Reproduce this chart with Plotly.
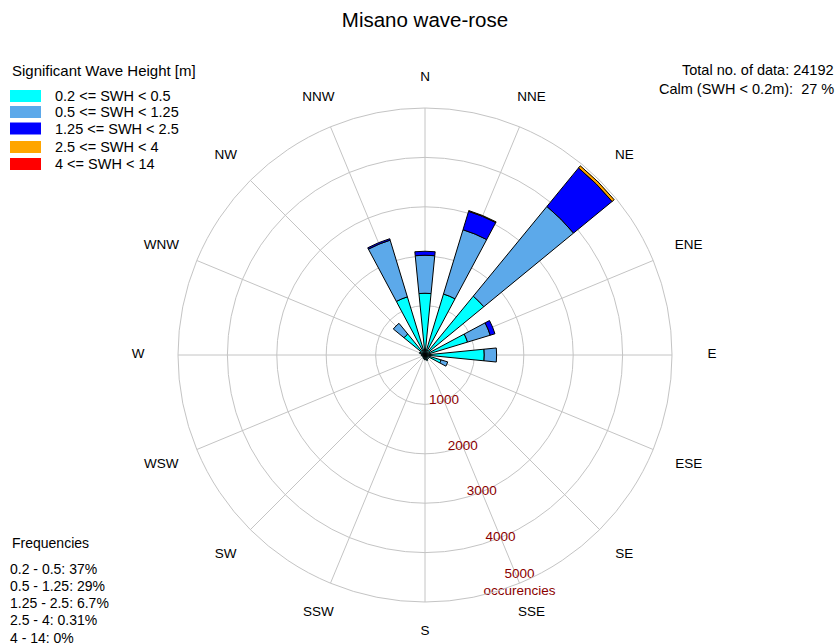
import math
import plotly.graph_objects as go

# Direction sectors (compass degrees, clockwise from north)
directions = ["N", "NNE", "NE", "ENE", "E", "ESE", "SE", "SSE",
              "S", "SSW", "SW", "WSW", "W", "WNW", "NW", "NNW"]
angles = [i * 22.5 for i in range(16)]

# Occurrences per direction for each significant wave height class
swh_02_05 = [1250, 1290, 1540, 900, 1200, 340, 100, 120, 100, 80, 60, 60, 80, 120, 550, 1230]
swh_05_125 = [770, 1360, 2350, 480, 250, 140, 0, 0, 0, 0, 0, 0, 0, 0, 280, 1200]
swh_125_25 = [80, 390, 1010, 100, 0, 0, 0, 0, 0, 0, 0, 0, 0, 0, 0, 30]
swh_25_4 = [0, 15, 55, 0, 0, 0, 0, 0, 0, 0, 0, 0, 0, 0, 0, 0]
swh_4_14 = [0] * 16

class_labels = ["0.2 <= SWH < 0.5", "0.5 <= SWH < 1.25", "1.25 <= SWH < 2.5",
                "2.5 <= SWH < 4", "4 <= SWH < 14"]
class_colors = ["#00ffff", "#5ca9ea", "#0000ff", "#ffa500", "#ff0000"]

radial_ticks = [1000, 2000, 3000, 4000, 5000]
radial_tick_text = ["1000", "2000", "3000", "4000", "5000<br>occurencies"]

freq_lines = ["0.2 - 0.5: 37%", "0.5 - 1.25: 29%", "1.25 - 2.5: 6.7%",
              "2.5 - 4: 0.31%", "4 - 14: 0%"]
total_text = "Total no. of data: 24192"
calm_text = "Calm (SWH < 0.2m):  27 %"

W, H = 840, 643
FONT = "Liberation Sans, Arial, sans-serif"


def px(x):
    return x / W


def py(y):
    return 1 - y / H


fig = go.Figure()

series = [swh_02_05, swh_05_125, swh_125_25, swh_25_4, swh_4_14]
for name, vals, color in zip(class_labels, series, class_colors):
    fig.add_trace(go.Barpolar(
        r=[v if v > 0 else None for v in vals],
        theta=angles,
        width=[11.25] * len(angles),
        name=name,
        marker=dict(color=color, line=dict(color="black", width=1)),
        showlegend=False,
    ))

# radial scale labels along the SSE spoke
fig.add_trace(go.Scatterpolar(
    r=radial_ticks, theta=[157.5] * len(radial_ticks), mode="text",
    text=radial_tick_text, textposition="middle center",
    textfont=dict(family=FONT, size=13.5, color="#8b0000"),
    cliponaxis=False, showlegend=False, hoverinfo="skip",
))

cx, cy, R = 425, 355, 247
scale = R / 5000.0                 # pixels per occurrence
OUTER_R = (H - cy) / scale         # overlay polar reaches the bottom edge
R2 = OUTER_R * scale

# compass labels sit on a slightly flattened ring around the rose
lab_a, lab_b = 287 / scale, 277 / scale


def label_radius(deg):
    t = math.radians(deg)
    return 1.0 / math.sqrt((math.sin(t) / lab_a) ** 2 + (math.cos(t) / lab_b) ** 2)


fig.add_trace(go.Scatterpolar(
    r=[label_radius(a) for a in angles], theta=angles, mode="text", text=directions,
    textfont=dict(family=FONT, size=13.5, color="black"),
    cliponaxis=False, showlegend=False, hoverinfo="skip", subplot="polar2",
))

grid = "#c4c4c4"
fig.update_layout(
    width=W, height=H,
    margin=dict(l=0, r=0, t=0, b=0),
    paper_bgcolor="white",
    font=dict(family=FONT, color="black"),
    title=dict(text="Misano wave-rose", x=px(425), xanchor="center",
               y=py(20), yanchor="middle", yref="container",
               font=dict(family=FONT, size=20.5, color="black")),
    polar=dict(
        domain=dict(x=[px(cx - R), px(cx + R)], y=[py(cy + R), py(cy - R)]),
        bgcolor="white",
        barmode="stack",
        radialaxis=dict(range=[0, 5000], tickvals=radial_ticks, showticklabels=False,
                        ticks="", showline=False, gridcolor=grid, gridwidth=1),
        angularaxis=dict(rotation=90, direction="clockwise", tickmode="array",
                         tickvals=angles, showticklabels=False, ticks="",
                         showline=True, linecolor=grid, linewidth=1,
                         gridcolor=grid, gridwidth=1),
    ),
    polar2=dict(
        domain=dict(x=[px(cx - R2), px(cx + R2)], y=[max(0.0, py(cy + R2)), py(cy - R2)]),
        bgcolor="rgba(0,0,0,0)",
        radialaxis=dict(range=[0, OUTER_R], visible=False),
        angularaxis=dict(rotation=90, direction="clockwise", visible=False),
    ),
)

annotations = []
shapes = []

# legend block
annotations.append(dict(text="Significant Wave Height [m]", x=px(10), y=py(71),
                        xanchor="left", yanchor="middle", showarrow=False,
                        font=dict(family=FONT, size=15)))
legend_rows = [96, 112, 128.5, 147, 164]
for lbl, col, yy in zip(class_labels, class_colors, legend_rows):
    shapes.append(dict(type="rect", xref="paper", yref="paper",
                       x0=px(10), x1=px(41), y0=py(yy - 6), y1=py(yy + 6),
                       fillcolor=col, line=dict(width=0)))
    annotations.append(dict(text=lbl, x=px(53), y=py(yy), xanchor="left",
                            yanchor="middle", showarrow=False,
                            font=dict(family=FONT, size=14.5)))

# data summary (top right)
annotations.append(dict(text=total_text, x=px(836), y=py(70), xanchor="right",
                        yanchor="middle", showarrow=False, font=dict(family=FONT, size=14.5)))
annotations.append(dict(text=calm_text, x=px(836), y=py(89), xanchor="right",
                        yanchor="middle", showarrow=False, font=dict(family=FONT, size=14.5)))

# class frequencies (bottom left)
annotations.append(dict(text="Frequencies", x=px(10), y=py(543), xanchor="left",
                        yanchor="middle", showarrow=False, font=dict(family=FONT, size=14)))
for i, line in enumerate(freq_lines):
    annotations.append(dict(text=line, x=px(8), y=py(568.5 + 17.3 * i), xanchor="left",
                            yanchor="middle", showarrow=False,
                            font=dict(family=FONT, size=14)))

fig.update_layout(annotations=annotations, shapes=shapes)
fig.write_html("out.html")
